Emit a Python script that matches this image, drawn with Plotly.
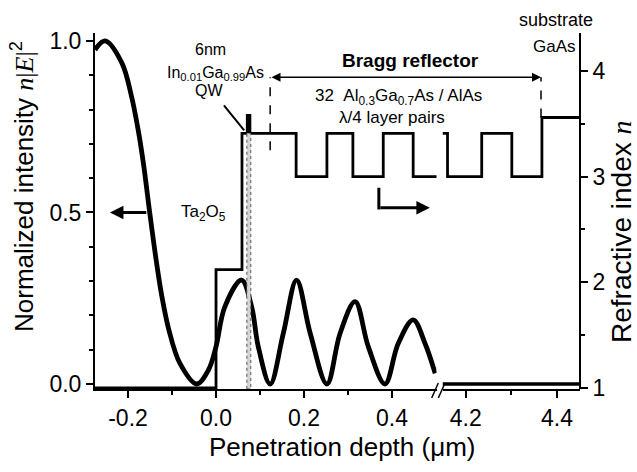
import plotly.graph_objects as go

# ---------------- data ----------------
# normalized intensity n|E|^2, near-surface part of the structure
depth_um = [-0.275, -0.252, -0.214, -0.192, -0.177, -0.165, -0.150, -0.135, -0.123,
            -0.107, -0.082, -0.044, -0.0175, 0.0, 0.020, 0.058, 0.081, 0.096, 0.123,
            0.153, 0.183, 0.214, 0.252, 0.282, 0.316, 0.346, 0.384, 0.414, 0.448,
            0.475, 0.498]
intensity = [0.974, 1.0, 0.936, 0.838, 0.741, 0.643, 0.493, 0.352, 0.255,
             0.157, 0.06, 0.0, 0.04, 0.109, 0.225, 0.303, 0.225, 0.109, 0.0,
             0.148, 0.303, 0.148, 0.0, 0.148, 0.24, 0.109, 0.0, 0.118, 0.187,
             0.118, 0.031]
# intensity in the substrate part (after the axis break)
sub_depth_um = [4.149, 4.4505]
sub_intensity = [0.0, 0.0]

# refractive index profile: layer start positions and index (step profile)
layer_start_um = [-0.275, 0.0, 0.059, 0.071, 0.077, 0.182, 0.252, 0.311, 0.380, 0.448, 0.52]
layer_index = [1.0, 2.12, 3.41, 3.58, 3.41, 3.00, 3.41, 3.00, 3.41, 3.00, 3.00]
sub_layer_start_um = [4.149, 4.160, 4.235, 4.301, 4.367, 4.4505]
sub_layer_index = [3.41, 3.00, 3.41, 3.00, 3.56, 3.56]

# quantum well extent and DBR markers
qw_um = [0.070, 0.079]
dbr_start_um = 0.123
dbr_end_um = 4.365

# ticks
x_tickvals = [-0.2, 0.0, 0.2, 0.4]
x_ticktext = ["-0.2", "0.0", "0.2", "0.4"]
x_minor = [-0.1, 0.1, 0.3]
x2_tickvals = [4.2, 4.4]
x2_ticktext = ["4.2", "4.4"]
x2_minor = [4.3]
y_tickvals = [0.0, 0.5, 1.0]
y_ticktext = ["0.0", "0.5", "1.0"]
y_minor = [0.1, 0.2, 0.3, 0.4, 0.6, 0.7, 0.8, 0.9]
y2_tickvals = [1, 2, 3, 4]
y2_ticktext = ["1", "2", "3", "4"]
y2_minor = [1.5, 2.5, 3.5]

# ---------------- layout helpers ----------------
W, H = 637, 472
L, R, T, B = 95, 580, 33, 389
FONT = "Liberation Sans, Arial, sans-serif"


def px(xp):
    return (xp - L) / (R - L)


def py(yp):
    return (B - yp) / (B - T)


fig = go.Figure()

fig.add_trace(go.Scatter(x=depth_um, y=intensity, xaxis="x", yaxis="y", mode="lines",
                         line=dict(color="black", width=4.8, shape="spline", smoothing=1.0),
                         showlegend=False))
fig.add_trace(go.Scatter(x=sub_depth_um, y=sub_intensity, xaxis="x2", yaxis="y", mode="lines",
                         line=dict(color="black", width=3.5), showlegend=False))
fig.add_trace(go.Scatter(x=layer_start_um, y=layer_index, xaxis="x", yaxis="y2", mode="lines",
                         line=dict(color="black", width=2.8, shape="hv"), showlegend=False))
fig.add_trace(go.Scatter(x=sub_layer_start_um, y=sub_layer_index, xaxis="x2", yaxis="y2", mode="lines",
                         line=dict(color="black", width=2.8, shape="hv"), showlegend=False))

axis_common = dict(showline=True, linecolor="black", linewidth=2, ticks="outside",
                   tickcolor="black", tickwidth=2, showgrid=False, zeroline=False,
                   tickfont=dict(family=FONT, size=23, color="black"))

d1 = px(436.5)
d2 = px(442.5)

fig.update_layout(
    width=W, height=H,
    margin=dict(l=L, r=W - R, t=T, b=H - B, pad=0),
    plot_bgcolor="white", paper_bgcolor="white",
    font=dict(family=FONT, color="black"),
    xaxis=dict(domain=[0, d1], range=[-0.275, 0.501], anchor="y",
               tickmode="array", tickvals=x_tickvals, ticktext=x_ticktext, ticklen=7,
               minor=dict(tickmode="array", tickvals=x_minor, ticks="outside", ticklen=4,
                          tickcolor="black", tickwidth=2),
               **axis_common),
    xaxis2=dict(domain=[d2, 1], range=[4.149, 4.4505], anchor="y",
                tickmode="array", tickvals=x2_tickvals, ticktext=x2_ticktext, ticklen=7,
                minor=dict(tickmode="array", tickvals=x2_minor, ticks="outside", ticklen=4,
                           tickcolor="black", tickwidth=2),
                **axis_common),
    yaxis=dict(domain=[0, 1], range=[-0.0146, 1.023], anchor="x",
               tickmode="array", tickvals=y_tickvals, ticktext=y_ticktext, ticklen=7,
               minor=dict(tickmode="array", tickvals=y_minor, ticks="outside", ticklen=4,
                          tickcolor="black", tickwidth=2),
               **axis_common),
    yaxis2=dict(overlaying="y", side="right", anchor="free", position=1.0, range=[0.99, 4.36],
                tickmode="array", tickvals=y2_tickvals, ticktext=y2_ticktext, ticklen=7,
                minor=dict(tickmode="array", tickvals=y2_minor, ticks="outside", ticklen=4,
                           tickcolor="black", tickwidth=2),
                **axis_common),
)

shapes = []
# quantum well band
shapes.append(dict(type="rect", xref="x", yref="y2", x0=qw_um[0], x1=qw_um[1], y0=0.99, y1=3.41,
                   fillcolor="#d4d4d4", line=dict(color="#555555", width=1, dash="dot"), layer="above"))
# DBR dashed markers
shapes.append(dict(type="line", xref="x", yref="y2", x0=dbr_start_um, x1=dbr_start_um, y0=3.25, y1=3.94,
                   line=dict(color="black", width=1.5, dash="dash")))
shapes.append(dict(type="line", xref="x2", yref="y2", x0=dbr_end_um, x1=dbr_end_um, y0=3.56, y1=3.94,
                   line=dict(color="black", width=1.5, dash="dash")))
# QW pointer
shapes.append(dict(type="line", xref="x", yref="y2", x0=0.018, y0=3.676, x1=0.064, y1=3.438,
                   line=dict(color="black", width=2)))
# right-pointing "use right axis" arrow, vertical part
shapes.append(dict(type="line", xref="x", yref="y2", x0=0.370, x1=0.370, y0=2.69, y1=2.895,
                   line=dict(color="black", width=3)))
# axis break marks
for xa, xb in [(431.7, 438.3), (438.3, 445.0)]:
    shapes.append(dict(type="line", xref="paper", yref="paper", x0=px(xa), y0=py(398), x1=px(xb), y1=py(383),
                       line=dict(color="black", width=1.5)))
fig.update_layout(shapes=shapes)

ann = []


def text(t, xp, yp, size, bold=False, angle=0):
    if bold:
        t = "<b>" + t + "</b>"
    ann.append(dict(text=t, xref="paper", yref="paper", x=px(xp), y=py(yp), xanchor="center",
                    yanchor="middle", showarrow=False, textangle=angle,
                    font=dict(family=FONT, size=size, color="black")))


text("6nm", 210, 49, 16)
text("In<sub>0.01</sub>Ga<sub>0.99</sub>As", 215, 73, 16)
text("QW", 209, 91, 16)
text("Bragg reflector", 410, 61, 19, bold=True)
text("32\u00a0\u00a0Al<sub>0.3</sub>Ga<sub>0.7</sub>As / AlAs", 398, 97, 17)
text("\u03bb/4 layer pairs", 392, 118, 17)
text("substrate", 556, 20, 18)
text("GaAs", 554, 47, 17)
text("Ta<sub>2</sub>O<sub>5</sub>", 203, 213, 17)

text("Penetration depth (\u03bcm)", 342, 447, 26)
text("Normalized intensity <span style=\"font-family:Liberation Serif\"><i>n</i>|<i>E</i>|</span><sup>2</sup>",
     23, 187, 26, angle=-90)
text("Refractive index <span style=\"font-family:Liberation Serif\"><i>n</i></span>", 621, 232, 28, angle=-90)

# arrows
ann.append(dict(text="", xref="x", yref="y", x=-0.241, y=0.5, axref="x", ayref="y", ax=-0.155, ay=0.5,
                showarrow=True, arrowhead=2, arrowsize=0.9, arrowwidth=3, arrowcolor="black"))
ann.append(dict(text="", xref="x", yref="y2", x=0.486, y=2.705, axref="x", ayref="y2", ax=0.370, ay=2.705,
                showarrow=True, arrowhead=2, arrowsize=0.9, arrowwidth=3, arrowcolor="black"))
ann.append(dict(text="", xref="x2", yref="y2", x=dbr_end_um, y=3.94, ax=-271, ay=0,
                showarrow=True, arrowhead=2, arrowside="end+start", arrowsize=1.2, arrowwidth=1.5,
                arrowcolor="black"))
fig.update_layout(annotations=ann)

fig.write_html("out.html")
